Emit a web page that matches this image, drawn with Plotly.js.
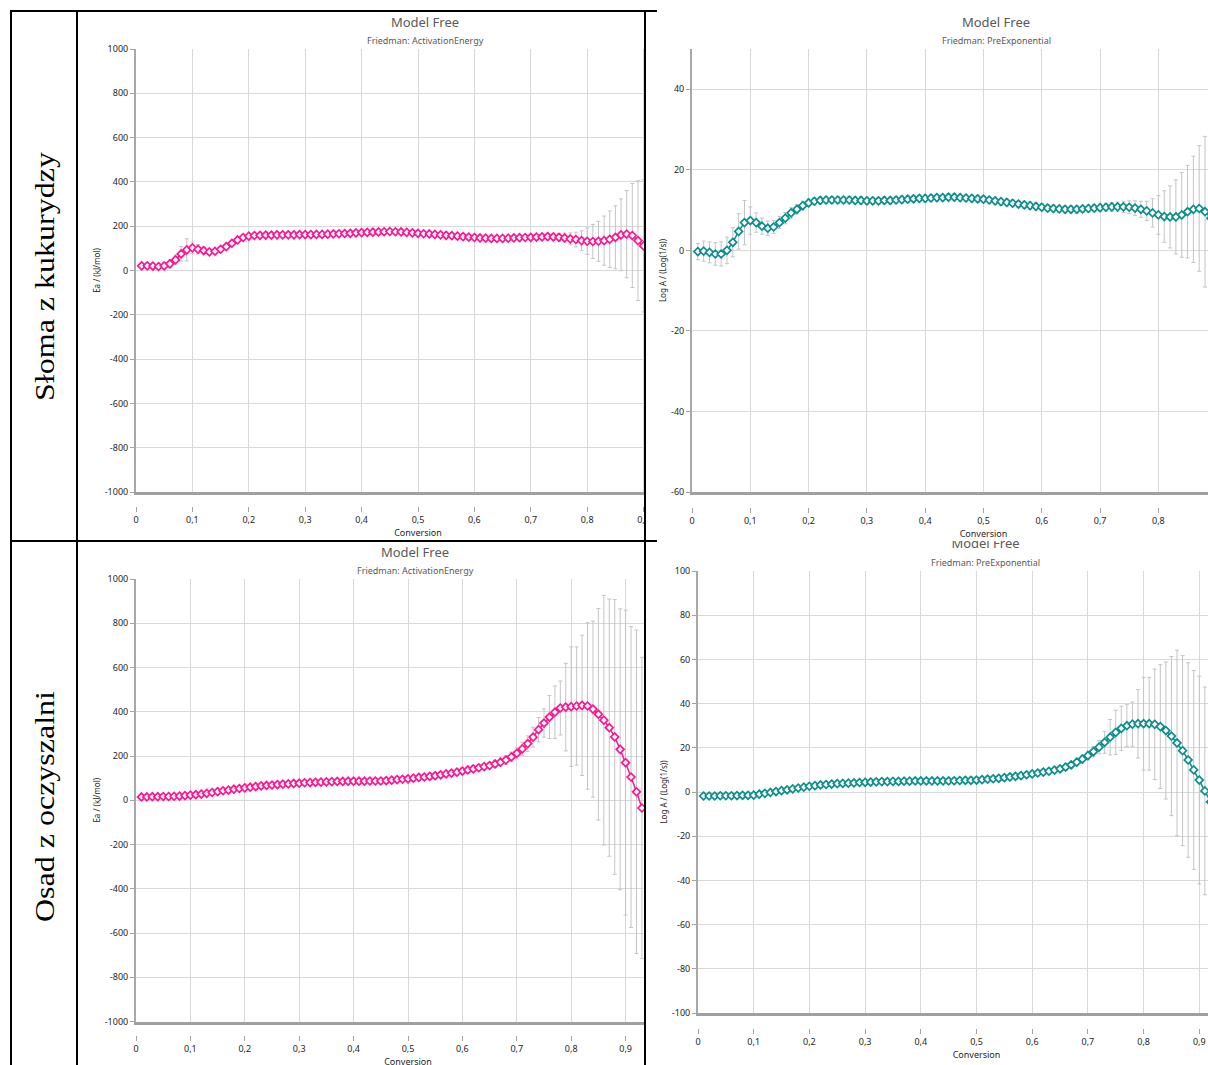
<!DOCTYPE html>
<html><head><meta charset="utf-8">
<script src="https://cdn.plot.ly/plotly-3.0.1.min.js"></script>
<style>
html,body{margin:0;padding:0;background:#fff;overflow:hidden;width:1208px;height:1065px;}
.cell{position:absolute;overflow:hidden;}
.plot{position:absolute;}
.line{position:absolute;background:#000;}
.lbl{position:absolute;display:flex;align-items:center;justify-content:center;}
.lbl span{display:inline-block;white-space:nowrap;font-family:'Liberation Serif','Times New Roman',serif;font-size:32px;color:#000;transform:rotate(-90deg) scaleY(0.87);}
</style></head><body>
<div class="lbl" style="left:12px;top:12px;width:64px;height:528px;"><span id="rowLabel1"></span></div>
<div class="lbl" style="left:12px;top:542px;width:64px;height:528px;"><span id="rowLabel2"></span></div>
<div class="cell" id="cell1" style="left:79px;top:12px;width:565px;height:528px;"><div class="plot" id="chart1"></div></div>
<div class="cell" id="cell2" style="left:646px;top:12px;width:562px;height:528px;"><div class="plot" id="chart2"></div></div>
<div class="cell" id="cell3" style="left:79px;top:542px;width:565px;height:523px;"><div class="plot" id="chart3"></div></div>
<div class="cell" id="cell4" style="left:646px;top:541px;width:562px;height:524px;"><div class="plot" id="chart4"></div></div>
<div class="line" style="left:10px;top:10px;width:647px;height:2px;"></div>
<div class="line" style="left:10px;top:540px;width:647px;height:2px;"></div>
<div class="line" style="left:10px;top:10px;width:2px;height:1055px;"></div>
<div class="line" style="left:76px;top:10px;width:2px;height:1055px;"></div>
<div class="line" style="left:644px;top:10px;width:2px;height:1055px;"></div>
<script>
// ---------- DATA ----------
const rowLabels = ['Słoma z kukurydzy', 'Osad z oczyszalni'];
const chartTitle = 'Model Free';
const subEa = 'Friedman: ActivationEnergy';
const subLogA = 'Friedman: PreExponential';
const xAxisTitle = 'Conversion';
const eaAxisTitle = 'Ea / (kJ/mol)';
const logAAxisTitle = 'Log A / (Log(1/s))';

const conversion = [
0.01,0.02,0.03,0.04,0.05,0.06,0.07,0.08,0.09,0.10,
0.11,0.12,0.13,0.14,0.15,0.16,0.17,0.18,0.19,0.20,
0.21,0.22,0.23,0.24,0.25,0.26,0.27,0.28,0.29,0.30,
0.31,0.32,0.33,0.34,0.35,0.36,0.37,0.38,0.39,0.40,
0.41,0.42,0.43,0.44,0.45,0.46,0.47,0.48,0.49,0.50,
0.51,0.52,0.53,0.54,0.55,0.56,0.57,0.58,0.59,0.60,
0.61,0.62,0.63,0.64,0.65,0.66,0.67,0.68,0.69,0.70,
0.71,0.72,0.73,0.74,0.75,0.76,0.77,0.78,0.79,0.80,
0.81,0.82,0.83,0.84,0.85,0.86,0.87,0.88,0.89,0.90,
0.91,0.92,0.93];

const eaStraw = [
21,21,20,18,21,30,48,75,93,102,
96,90,84,87,96,108,123,138,149,155,
158,159,160,160,161,161,161,161,162,162,
162,163,163,164,165,166,167,168,170,171,
172,173,174,175,176,175,174,172,170,168,
166,165,163,161,159,157,155,153,151,149,
147,146,145,145,145,146,147,148,149,150,
151,152,153,152,150,147,143,140,135,132,
131,132,135,141,150,161,164,158,135,111,
80,50,20];
const eaStrawErr = [
12,12,12,12,15,18,22,33,50,26,
21,15,12,12,12,10,10,10,10,10,
8,8,8,8,8,8,8,8,8,8,
8,8,8,8,8,8,8,8,8,8,
8,8,8,8,8,8,8,8,8,8,
8,8,8,8,8,8,8,8,8,8,
8,8,8,8,8,8,8,8,8,8,
9,10,12,14,17,22,27,33,44,60,
77,90,111,128,142,162,197,235,270,298,
320,340,360];

const logAStraw = [
-0.3,-0.2,-0.5,-0.9,-0.9,0.0,2.0,4.7,6.9,7.4,
6.9,6.0,5.5,5.8,6.9,8.0,9.3,10.2,11.1,11.8,
12.2,12.4,12.5,12.5,12.5,12.5,12.5,12.4,12.4,12.3,
12.3,12.3,12.4,12.4,12.5,12.6,12.7,12.8,12.9,12.9,
13.0,13.1,13.1,13.2,13.2,13.1,13.0,12.9,12.8,12.7,
12.5,12.3,12.1,11.9,11.7,11.5,11.3,11.1,10.9,10.7,
10.5,10.4,10.3,10.2,10.2,10.2,10.3,10.4,10.5,10.6,
10.7,10.8,10.8,10.8,10.7,10.5,10.2,9.8,9.3,8.8,
8.4,8.3,8.3,8.8,9.6,10.2,10.4,9.6,8.0,6.5,
5.0,3.5,2.0];
const logAStrawErr = [
2.0,2.5,2.6,2.8,3.0,3.3,3.6,4.4,5.5,3.4,
2.4,2.0,1.8,1.6,1.5,1.4,1.3,1.2,1.1,1.0,
0.9,0.9,0.9,0.9,0.9,0.9,0.9,0.9,0.9,0.9,
0.9,0.9,0.9,0.9,0.9,0.9,0.9,0.9,0.9,0.9,
0.9,0.9,0.9,0.9,0.9,0.9,0.9,0.9,0.9,0.9,
0.9,0.9,0.9,0.9,0.9,0.9,0.9,0.9,0.9,0.9,
0.9,0.9,0.9,0.9,0.9,0.9,0.9,0.9,0.9,0.9,
1.0,1.1,1.2,1.4,1.6,1.8,2.0,2.4,3.5,4.8,
6.4,7.7,9.2,10.5,11.5,13.2,15.6,18.7,21,23,
25,27,29];

const eaSludge = [
15,15,16,16,17,17,18,19,21,23,
25,28,31,35,39,43,46,50,53,56,
59,62,65,67,69,71,73,74,76,77,
79,80,81,82,83,84,85,85,86,86,
86,86,87,87,87,89,91,93,95,97,
100,103,105,108,111,115,119,123,127,132,
137,142,147,152,157,164,172,182,196,212,
232,256,285,319,349,376,398,417,421,423,
426,429,426,412,389,362,328,286,230,170,
105,38,-35];
const eaSludgeErr = [
5,5,5,5,5,5,5,5,5,5,
8,8,8,8,8,8,8,8,8,8,
8,8,8,8,8,8,8,8,8,8,
12,12,12,12,12,12,12,12,12,12,
12,12,12,12,12,12,12,12,12,12,
14,14,14,14,14,14,14,14,14,14,
14,14,14,14,14,16,18,20,22,25,
30,35,45,55,64,97,119,122,198,270,
267,317,376,398,478,564,581,621,635,689,
680,731,681];

const logASludge = [
-1.8,-1.8,-1.8,-1.7,-1.7,-1.7,-1.6,-1.5,-1.5,-1.4,
-1.0,-0.6,-0.2,0.2,0.6,1.0,1.4,1.8,2.2,2.6,
2.9,3.2,3.4,3.6,3.8,3.9,4.0,4.1,4.3,4.4,
4.5,4.6,4.7,4.7,4.8,4.8,4.9,4.9,5.0,5.0,
5.0,5.0,5.0,5.0,5.0,5.1,5.2,5.3,5.3,5.4,
5.6,5.8,6.0,6.2,6.5,6.8,7.1,7.4,7.8,8.2,
8.6,9.0,9.4,9.9,10.5,11.3,12.3,13.5,14.9,16.5,
18.3,20.3,22.5,24.8,27.0,28.8,30.0,30.7,30.9,30.9,
30.9,30.6,29.6,27.8,25.3,22.2,18.7,14.5,10.0,5.4,
0.5,-4.5,-9.5];
const logASludgeErr = [
0.6,0.6,0.6,0.6,0.6,0.6,0.6,0.6,0.6,0.6,
1.0,1.0,1.0,1.0,1.0,1.0,1.0,1.0,1.0,1.0,
1.0,1.0,1.0,1.0,1.0,1.0,1.0,1.0,1.0,1.0,
1.2,1.2,1.2,1.2,1.2,1.2,1.2,1.2,1.2,1.2,
1.2,1.2,1.2,1.2,1.2,1.4,1.4,1.4,1.4,1.4,
1.4,1.4,1.4,1.4,1.4,1.4,1.4,1.4,1.4,1.4,
1.4,1.4,1.4,1.4,1.4,1.5,1.6,1.7,1.8,2.0,
2.3,3.0,5.0,8.0,10.0,10.0,9.5,10.0,15.5,21,
21,25,28,31,36,42,43,44,45,47,
47,50,52];

const xTickVals = [0,0.1,0.2,0.3,0.4,0.5,0.6,0.7,0.8,0.9,1];
const xTickText = ['0','0,1','0,2','0,3','0,4','0,5','0,6','0,7','0,8','0,9','1'];
const eaTickVals = [-1000,-800,-600,-400,-200,0,200,400,600,800,1000];
const eaTickText = ['-1000','-800','-600','-400','-200','0','200','400','600','800','1000'];
const logAStrawTickVals = [-60,-40,-20,0,20,40];
const logAStrawTickText = ['-60','-40','-20','0','20','40'];
const logASludgeTickVals = [-100,-80,-60,-40,-20,0,20,40,60,80,100];
const logASludgeTickText = ['-100','-80','-60','-40','-20','0','20','40','60','80','100'];

const pink = '#ff1493';
const teal = '#0b8e8e';

// ---------- DRAWING ----------
document.getElementById('rowLabel1').textContent = rowLabels[0];
document.getElementById('rowLabel2').textContent = rowLabels[1];

const FONT = 'Noto Sans, Open Sans, sans-serif';
const GRID = '#d9d9d9';
const AXC = '#a3a3a3';
const TXT = '#262626';
const EXTRA = 30; // plot div extends below its (clipping) cell

function draw(divId, g, spec) {
  const W = (g.plotL - g.cellL) + g.plotW + 80;
  const H = g.cellB - g.cellT + EXTRA;
  const ml = g.plotL - g.cellL;
  const mt = g.plotT - g.cellT;
  const mb = (g.cellT + H) - g.axisY;
  const mr = W - ml - g.plotW;
  const paperH = H - mt - mb;
  const d = (g.axisY - g.plotB) / paperH;
  const el = document.getElementById(divId);
  el.style.left = '0px'; el.style.top = '0px';
  el.style.width = W + 'px'; el.style.height = H + 'px';

  const traces = [
    {type:'scatter', mode:'lines+markers', x: conversion, y: spec.y,
     xaxis:'x', yaxis:'y', cliponaxis:true,
     line:{color: spec.color, width:1.5},
     marker:{symbol:'diamond', size:6, color:'#ffffff', line:{width:1.7, color: spec.color}},
     error_y:{type:'data', array: spec.err, visible:true, color:'#c4c4c4', thickness:1, width:2},
     showlegend:false, hoverinfo:'skip'},
    {type:'scatter', mode:'markers', x:[0], y:[null], xaxis:'x2', yaxis:'y', showlegend:false, hoverinfo:'skip'}
  ];

  const layout = {
    width: W, height: H,
    margin:{l: ml, r: mr, t: mt, b: mb, pad:0},
    paper_bgcolor:'#fff', plot_bgcolor:'#fff',
    font:{family: FONT, size:9, color: TXT},
    showlegend:false,
    title:{text: chartTitle, font:{family: FONT, size:13, color:'#595959'},
           xref:'paper', x:(g.titleX - g.plotL)/g.plotW, xanchor:'center',
           yref:'container', y: 1 - (g.titleY - g.cellT)/H, yanchor:'middle'},
    annotations:[{text: spec.sub, showarrow:false, xref:'paper', yref:'paper',
      x:(g.titleX - g.plotL)/g.plotW, y:(g.axisY - g.subY)/paperH,
      xanchor:'center', yanchor:'middle', font:{family: FONT, size:9, color:'#595959'}}],
    xaxis:{range:[0,1], tickmode:'array', tickvals: xTickVals, showticklabels:false, ticks:'',
      showgrid:true, gridcolor: GRID, gridwidth:1, showline:true, linecolor:'#a0a0a0', linewidth:3,
      zeroline:false, fixedrange:true, automargin:false},
    xaxis2:{overlaying:'x', anchor:'free', position:0, side:'bottom', range:[0,1],
      tickmode:'array', tickvals: xTickVals, ticktext: xTickText,
      ticks:'outside', ticklen:5, tickwidth:1, tickcolor: AXC,
      showgrid:false, showline:false, zeroline:false, fixedrange:true, automargin:false,
      tickfont:{family: FONT, size:9, color: TXT},
      title:{text: xAxisTitle, font:{family: FONT, size:9, color: TXT}, standoff:1}},
    yaxis:{domain:[d,1], range: spec.range, tickmode:'array', tickvals: spec.tv, ticktext: spec.tt,
      ticks:'outside', ticklen:4, tickwidth:1, tickcolor: AXC,
      showline:true, linecolor:'#a8a8a8', linewidth:2,
      showgrid:true, gridcolor: GRID, gridwidth:1, zeroline:false, fixedrange:true, automargin:false,
      tickfont:{family: FONT, size:9, color: TXT},
      title:{text: spec.ytitle, font:{family: FONT, size:8, color: TXT}, standoff:3}}
  };
  Plotly.newPlot(divId, traces, layout, {staticPlot:true, displayModeBar:false});
}

draw('chart1', {cellL:79, cellT:12, cellB:540, plotL:136, plotT:49, plotB:492, plotW:564, axisY:506, titleX:425, titleY:22, subY:40},
  {y: eaStraw, err: eaStrawErr, color: pink, sub: subEa, range:[-1000,1000], tv: eaTickVals, tt: eaTickText, ytitle: eaAxisTitle});
draw('chart2', {cellL:646, cellT:12, cellB:540, plotL:692, plotT:49, plotB:492, plotW:583, axisY:507, titleX:996, titleY:22, subY:40},
  {y: logAStraw, err: logAStrawErr, color: teal, sub: subLogA, range:[-60,50], tv: logAStrawTickVals, tt: logAStrawTickText, ytitle: logAAxisTitle});
draw('chart3', {cellL:79, cellT:542, cellB:1065, plotL:136, plotT:579, plotB:1021.5, plotW:544, axisY:1035, titleX:415, titleY:552, subY:570},
  {y: eaSludge, err: eaSludgeErr, color: pink, sub: subEa, range:[-1000,1000], tv: eaTickVals, tt: eaTickText, ytitle: eaAxisTitle});
draw('chart4', {cellL:646, cellT:541, cellB:1065, plotL:697.5, plotT:571, plotB:1013, plotW:557, axisY:1028, titleX:985, titleY:543, subY:562},
  {y: logASludge, err: logASludgeErr, color: teal, sub: subLogA, range:[-100,100], tv: logASludgeTickVals, tt: logASludgeTickText, ytitle: logAAxisTitle});
</script>
</body></html>
